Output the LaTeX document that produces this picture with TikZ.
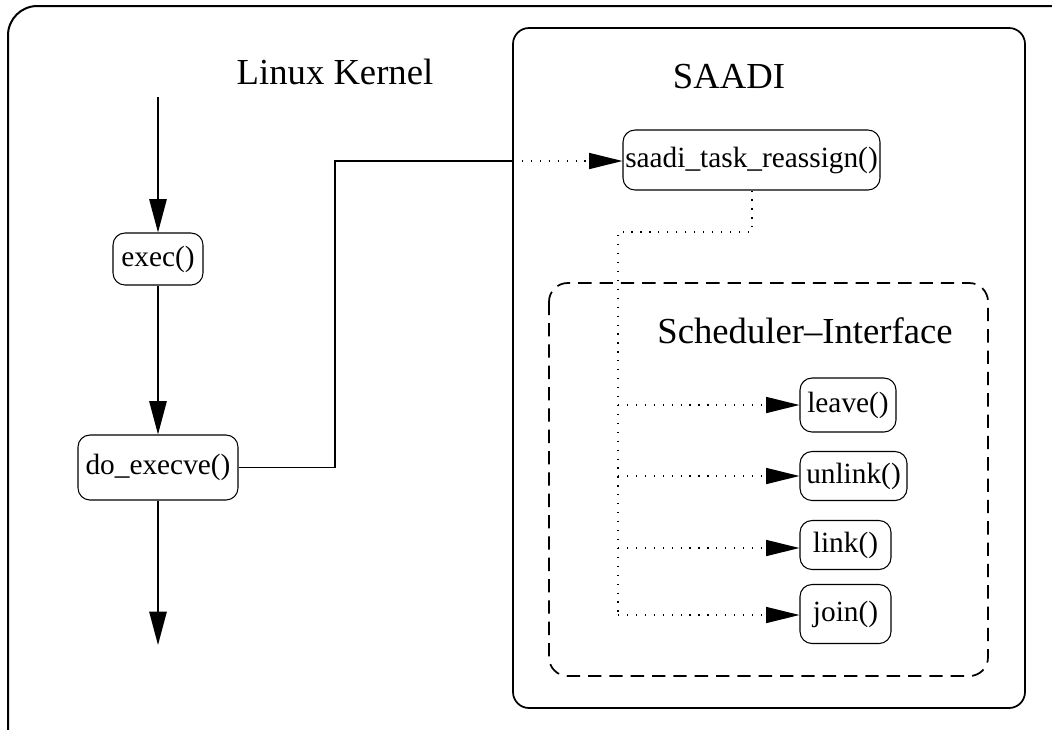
\documentclass[tikz,border=0pt]{standalone}
\usepackage{fontspec}
\setmainfont{Liberation Serif}
\usetikzlibrary{arrows.meta}
\begin{document}
\begin{tikzpicture}[x=0.75pt,y=-0.75pt,
  box/.style={draw,line width=0.8pt,rounded corners=9pt,inner sep=0pt,font=\fontsize{22}{24}\selectfont},
  title/.style={font=\fontsize{27.5}{30}\selectfont,inner sep=0pt},
  flow/.style={line width=1.3pt,-{Triangle[length=25pt,width=13pt]}},
  dotline/.style={line width=1.1pt,dash pattern=on 0.9pt off 5.8pt},
  dotarrow/.style={dotline,-{Triangle[length=25pt,width=12pt,sep=0pt]}}
]
\useasboundingbox (0,0) rectangle (1052,729);
\begin{scope}
\clip (0,0) rectangle (1052,729);
\draw[line width=1.5pt,rounded corners=22pt] (8,6) rectangle (1080,760);
\end{scope}
% SAADI container
\draw[line width=1.3pt,rounded corners=12pt] (513,28) rectangle (1025,708);
% Scheduler interface container
\draw[line width=1.3pt,rounded corners=14pt,dash pattern=on 10pt off 6pt] (549,283) rectangle (988,676);

\node[title] (lk) at (335,72) {Linux Kernel};
\node[title] (saaditl) at (729,77) {SAADI};
\node[title] (sitl) at (805,331) {Scheduler--Interface};

\node[box,minimum width=67.5pt,minimum height=39pt] (exec) at (158,259) {exec()};
\node[box,minimum width=120pt,minimum height=48.75pt] (doex) at (158,467.5) {do\_execve()};
\node[box,minimum width=192.75pt,minimum height=45pt] (sr) at (751.5,160) {saadi\_task\_reassign()};
\node[box,minimum width=72pt,minimum height=40.5pt] (leave) at (848,405) {leave()};
\node[box,minimum width=80.25pt,minimum height=36.75pt] (unlink) at (853.5,476) {unlink()};
\node[box,minimum width=68.25pt,minimum height=36.75pt] (link) at (845.5,545) {link()};
\node[box,minimum width=68.25pt,minimum height=44.25pt] (join) at (845.5,614) {join()};

\coordinate (top) at (158,97);
\coordinate (bot) at (158,645);
\coordinate (c1) at (335,467.5);
\coordinate (c2) at (335,161);
\coordinate (c3) at (513,161);
\coordinate (d1) at (752,232);
\coordinate (d2) at (618,232);
\coordinate (bl) at (618,405);
\coordinate (bu) at (618,476);
\coordinate (bk) at (618,548);
\coordinate (bj) at (618,615);

\draw[flow] (top) -- (exec.north);
\draw[flow] (exec.south) -- (doex.north);
\draw[flow] (doex.south) -- (bot);
\draw[line width=1.3pt] (doex.east) -- (c1) -- (c2) -- (c3);
\draw[dotarrow] (c3) -- (sr.west |- c3);
\draw[dotline] (sr.south -| d1) -- (d1) -- (d2) -- (bj);
\draw[dotarrow] (bl) -- (leave.west |- bl);
\draw[dotarrow] (bu) -- (unlink.west |- bu);
\draw[dotarrow] (bk) -- (link.west |- bk);
\draw[dotarrow] (bj) -- (join.west |- bj);
\end{tikzpicture}
\end{document}
